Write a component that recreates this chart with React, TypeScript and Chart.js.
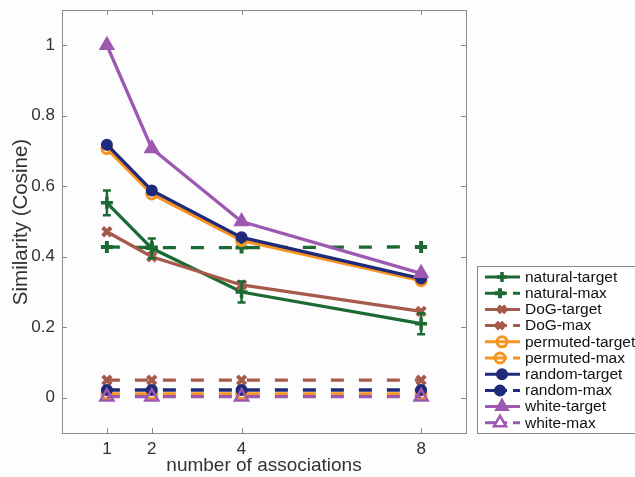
import React, { useEffect, useRef } from "react";
import { Chart, registerables } from "chart.js";

Chart.register(...registerables);

const associations = [1, 2, 4, 8];
const xTicks = [1, 2, 4, 8];
const yTicks = [0, 0.2, 0.4, 0.6, 0.8, 1];

const naturalTarget = [0.553, 0.424, 0.3, 0.21];
const naturalTargetErr = [0.035, 0.028, 0.03, 0.03];
const naturalMax = [0.428, 0.426, 0.426, 0.428];
const dogTarget = [0.471, 0.4, 0.32, 0.245];
const dogMax = [0.05, 0.05, 0.05, 0.05];
const permutedTarget = [0.707, 0.578, 0.446, 0.332];
const permutedMax = [0.011, 0.011, 0.011, 0.011];
const randomTarget = [0.718, 0.588, 0.455, 0.338];
const randomMax = [0.022, 0.022, 0.022, 0.022];
const whiteTarget = [1.0, 0.707, 0.5, 0.353];
const whiteMax = [0.003, 0.003, 0.003, 0.003];

const GREEN = "#1c6a33";
const BROWN = "#a65a4b";
const ORANGE = "#f7931f";
const NAVY = "#1f2a7a";
const PURPLE = "#9d58b0";

const FONT = '"Liberation Sans", Arial, Helvetica, sans-serif';
const TEXT = "#333333";
const AXIS = "#8a8a8a";

type Series = {
  label: string;
  data: number[];
  color: string;
  style: string;
  dashed: boolean;
  filled: boolean;
  radius: number;
  bw: number;
};

const series: Series[] = [
  { label: "natural-target", data: naturalTarget, color: GREEN, style: "cross", dashed: false, filled: true, radius: 6, bw: 3.5 },
  { label: "natural-max", data: naturalMax, color: GREEN, style: "cross", dashed: true, filled: true, radius: 6, bw: 4 },
  { label: "DoG-target", data: dogTarget, color: BROWN, style: "crossRot", dashed: false, filled: true, radius: 6, bw: 4 },
  { label: "DoG-max", data: dogMax, color: BROWN, style: "crossRot", dashed: true, filled: true, radius: 6, bw: 4 },
  { label: "permuted-target", data: permutedTarget, color: ORANGE, style: "circle", dashed: false, filled: false, radius: 5, bw: 3 },
  { label: "permuted-max", data: permutedMax, color: ORANGE, style: "circle", dashed: true, filled: false, radius: 5, bw: 3 },
  { label: "random-target", data: randomTarget, color: NAVY, style: "circle", dashed: false, filled: true, radius: 5, bw: 2 },
  { label: "random-max", data: randomMax, color: NAVY, style: "circle", dashed: true, filled: true, radius: 5, bw: 2 },
  { label: "white-target", data: whiteTarget, color: PURPLE, style: "triangle", dashed: false, filled: true, radius: 7.5, bw: 2 },
  { label: "white-max", data: whiteMax, color: PURPLE, style: "triangle", dashed: true, filled: false, radius: 7.5, bw: 2.5 },
];

const DASH = [13, 15];

function drawMarker(ctx: CanvasRenderingContext2D, s: Series, x: number, y: number, r: number) {
  ctx.save();
  ctx.strokeStyle = s.color;
  ctx.fillStyle = s.filled ? s.color : "#ffffff";
  ctx.lineWidth = s.bw;
  ctx.setLineDash([]);
  ctx.beginPath();
  if (s.style === "cross") {
    ctx.moveTo(x - r, y); ctx.lineTo(x + r, y);
    ctx.moveTo(x, y - r); ctx.lineTo(x, y + r);
    ctx.stroke();
  } else if (s.style === "crossRot") {
    const d = r * 0.707;
    ctx.moveTo(x - d, y - d); ctx.lineTo(x + d, y + d);
    ctx.moveTo(x + d, y - d); ctx.lineTo(x - d, y + d);
    ctx.stroke();
  } else if (s.style === "circle") {
    ctx.arc(x, y, r, 0, Math.PI * 2);
    if (s.filled) ctx.fill();
    ctx.stroke();
  } else if (s.style === "triangle") {
    for (let k = 0; k < 3; k++) {
      const a = (k * 2 * Math.PI) / 3;
      const px = x + Math.sin(a) * r;
      const py = y - Math.cos(a) * r;
      if (k === 0) ctx.moveTo(px, py); else ctx.lineTo(px, py);
    }
    ctx.closePath();
    ctx.fill();
    ctx.stroke();
  }
  ctx.restore();
}

const decorPlugin = {
  id: "decor",
  beforeDraw(chart: any) {
    const ctx = chart.ctx as CanvasRenderingContext2D;
    ctx.save();
    ctx.fillStyle = "#fdfdfe";
    ctx.fillRect(0, 0, chart.width, chart.height);
    ctx.restore();
  },
  beforeDatasetsDraw(chart: any) {
    const ctx = chart.ctx as CanvasRenderingContext2D;
    const { left, right, top, bottom } = chart.chartArea;
    const xs = chart.scales.x;
    const ys = chart.scales.y;
    ctx.save();
    ctx.strokeStyle = AXIS;
    ctx.lineWidth = 1;
    ctx.strokeRect(Math.round(left) + 0.5, Math.round(top) + 0.5, Math.round(right - left), Math.round(bottom - top));
    ctx.beginPath();
    const tl = 5;
    xTicks.forEach((v) => {
      const px = Math.round(xs.getPixelForValue(v)) + 0.5;
      ctx.moveTo(px, bottom); ctx.lineTo(px, bottom - tl);
      ctx.moveTo(px, top); ctx.lineTo(px, top + tl);
    });
    yTicks.forEach((v) => {
      const py = Math.round(ys.getPixelForValue(v)) + 0.5;
      ctx.moveTo(left, py); ctx.lineTo(left + tl, py);
      ctx.moveTo(right, py); ctx.lineTo(right - tl, py);
    });
    ctx.stroke();
    ctx.restore();
  },
  afterDatasetsDraw(chart: any) {
    const ctx = chart.ctx as CanvasRenderingContext2D;
    const xs = chart.scales.x;
    const ys = chart.scales.y;
    ctx.save();
    ctx.strokeStyle = GREEN;
    ctx.lineWidth = 2.5;
    associations.forEach((a, i) => {
      const px = xs.getPixelForValue(a);
      const y1 = ys.getPixelForValue(naturalTarget[i] + naturalTargetErr[i]);
      const y2 = ys.getPixelForValue(naturalTarget[i] - naturalTargetErr[i]);
      ctx.beginPath();
      ctx.moveTo(px, y1); ctx.lineTo(px, y2);
      ctx.moveTo(px - 4, y1); ctx.lineTo(px + 4, y1);
      ctx.moveTo(px - 4, y2); ctx.lineTo(px + 4, y2);
      ctx.stroke();
    });
    ctx.restore();
  },
  afterDraw(chart: any) {
    const ctx = chart.ctx as CanvasRenderingContext2D;
    const { left, right, top, bottom } = chart.chartArea;
    const xs = chart.scales.x;
    const ys = chart.scales.y;
    ctx.save();
    ctx.fillStyle = TEXT;
    ctx.font = `17px ${FONT}`;
    ctx.textAlign = "right";
    ctx.textBaseline = "middle";
    yTicks.forEach((v) => {
      ctx.fillText(String(v), left - 7, ys.getPixelForValue(v));
    });
    ctx.textAlign = "center";
    ctx.textBaseline = "top";
    xTicks.forEach((v) => {
      ctx.fillText(String(v), xs.getPixelForValue(v), bottom + 8);
    });
    ctx.font = `19px ${FONT}`;
    ctx.textBaseline = "middle";
    ctx.fillText("number of associations", (left + right) / 2, bottom + 33);
    ctx.save();
    ctx.font = `20.5px ${FONT}`;
    ctx.translate(21, 222);
    ctx.rotate(-Math.PI / 2);
    ctx.fillText("Similarity (Cosine)", 0, 0);
    ctx.restore();

    // legend
    const lx = 477, ly = 266, lw = 170, lh = 167;
    ctx.fillStyle = "#ffffff";
    ctx.fillRect(lx, ly, lw, lh);
    ctx.strokeStyle = AXIS;
    ctx.lineWidth = 1;
    ctx.strokeRect(lx + 0.5, ly + 0.5, lw, lh);
    ctx.font = `15.5px ${FONT}`;
    ctx.textAlign = "left";
    ctx.textBaseline = "middle";
    series.forEach((s, i) => {
      const y = 277 + i * 16.2;
      ctx.strokeStyle = s.color;
      ctx.lineWidth = 3;
      ctx.setLineDash([]);
      ctx.beginPath();
      if (s.dashed) {
        ctx.moveTo(485, y); ctx.lineTo(507, y);
        ctx.moveTo(513, y); ctx.lineTo(520, y);
      } else {
        ctx.moveTo(485, y); ctx.lineTo(520, y);
      }
      ctx.stroke();
      drawMarker(ctx, s, s.dashed ? 500 : 502, y, s.style === "triangle" ? 7 : 5);
      ctx.fillStyle = "#111111";
      ctx.fillText(s.label, 525, y + 0.5);
    });
    ctx.restore();
  },
};

export default function App() {
  const ref = useRef<HTMLCanvasElement | null>(null);
  useEffect(() => {
    if (!ref.current) return;
    const datasets = series.map((s, i) => ({
      label: s.label,
      data: associations.map((a, j) => ({ x: a, y: s.data[j] })),
      borderColor: s.color,
      backgroundColor: s.filled ? s.color : "rgba(255,255,255,0)",
      borderWidth: 3.3,
      borderDash: s.dashed ? DASH : [],
      pointStyle: s.style as any,
      pointRadius: s.radius,
      pointBorderWidth: s.bw,
      pointBorderColor: s.color,
      pointBackgroundColor: s.filled ? s.color : "rgba(255,255,255,0)",
      tension: 0,
      fill: false,
      clip: false as any,
      order: series.length - i,
    }));
    const chart = new Chart(ref.current, {
      type: "line",
      data: { datasets },
      options: {
        responsive: false,
        animation: false,
        devicePixelRatio: 1,
        layout: { padding: { left: 62, top: 10, right: 169, bottom: 44 } },
        plugins: { legend: { display: false }, tooltip: { enabled: false } },
        scales: {
          x: { type: "linear", min: 0, max: 9, display: false },
          y: { type: "linear", min: -0.1, max: 1.1, display: false },
        },
      },
      plugins: [decorPlugin],
    });
    return () => chart.destroy();
  }, []);
  return (
    <div style={{ position: "fixed", left: 0, top: 0, width: 635, height: 477 }}>
      <canvas ref={ref} width={635} height={477} style={{ display: "block" }} />
    </div>
  );
}
